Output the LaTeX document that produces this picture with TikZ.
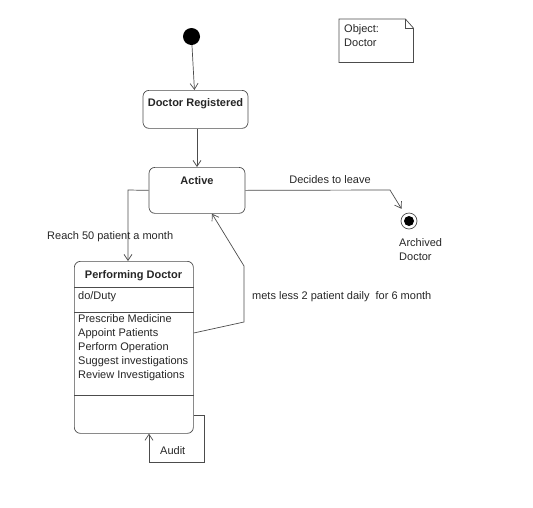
\documentclass[tikz,border=0pt]{standalone}
\usepackage{fontspec}
\setmainfont{Liberation Sans}
\usetikzlibrary{arrows.meta,calc}
\begin{document}
\begin{tikzpicture}[x=1pt,y=-1pt,
  lc/.style={draw=black!70, line width=0.7pt},
  arr/.style={lc, -{Straight Barb[length=6pt,width=8pt]}},
  statebox/.style={lc, fill=white, rounded corners=6pt, inner sep=0pt},
  txt/.style={font=\fontsize{11}{14}\selectfont, text=black!85, inner sep=0pt},
  btxt/.style={txt, font=\fontsize{11}{14}\selectfont\bfseries}
]
\useasboundingbox (0,0) rectangle (533,507);

% initial state
\node[circle, fill=black, inner sep=0pt, minimum size=17pt] (init) at (191.5,36.5) {};

% Doctor Registered
\node[statebox, btxt, draw=black!70, minimum width=105pt, text height=16pt, text depth=22pt, anchor=north] (dr) at (195.5,90) {Doctor Registered};

% Active
\node[statebox, btxt, draw=black!70, minimum width=96pt, text height=17pt, text depth=29pt, anchor=north] (act) at (197,167) {Active};

% final state
\node[circle, draw=black!70, line width=0.7pt, fill=white, minimum size=16pt, inner sep=0pt] (fin) at (409,221) {};
\node[circle, fill=black, minimum size=10pt, inner sep=0pt] (finin) at (fin) {};
\node[txt, align=left, anchor=north west] (finlbl) at (399,238) {Archived\\Doctor};

% note
\node[minimum width=74pt, minimum height=43pt, inner sep=0pt, anchor=north west] (note) at (339,19) {};
\draw[lc] (note.north west) -- ($(note.north east)+(-8,0)$) -- ($(note.north east)+(0,9)$) -- (note.south east) -- (note.south west) -- cycle;
\draw[lc] ($(note.north east)+(-8,0)$) -- ($(note.north east)+(-8,9)$) -- ($(note.north east)+(0,9)$);
\node[txt, align=left, anchor=north west] (notetxt) at (344,24) {Object:\\Doctor};

% Performing Doctor
\node[statebox, minimum width=119pt, minimum height=172pt, anchor=north west] (perf) at (74,261) {};
\draw[lc] (74,287) coordinate (d1) -- (perf.east |- d1);
\draw[lc] (74,312) coordinate (d2) -- (perf.east |- d2);
\draw[lc] (74,395) coordinate (d3) -- (perf.east |- d3);
\node[btxt, anchor=base] (perftitle) at (133.5,278) {Performing Doctor};
\node[txt, anchor=base west] (duty) at (78,299) {do/Duty};
\node[txt, align=left, anchor=north west, font=\fontsize{11}{14}\selectfont] (acts) at (78,314.5) {Prescribe Medicine\\Appoint Patients\\Perform Operation\\Suggest investigations\\Review Investigations};

% transitions
\draw[arr] (init) -- (dr);
\draw[arr] (act.north |- dr.south) -- (act.north);

\coordinate (c1) at (390,190);
\draw[arr, shorten >=6pt] (act.east) -- (c1) -- (fin);
\node[txt, anchor=base] (lleave) at (330,183) {Decides to leave};

\coordinate (c2) at (128,190);
\draw[arr] (act.west) -- (c2) -- (c2 |- perf.north);
\node[txt, anchor=base west] (lreach) at (47,239) {Reach 50 patient a month};

\coordinate (r0) at (0,333);
\coordinate (r1) at (244,322);
\coordinate (r2) at (244,266);
\coordinate (r3) at (212,0);
\draw[arr] (perf.east |- r0) -- (r1) -- (r2) -- (act.south -| r3);
\node[txt, anchor=base west] (lmets) at (252,299) {mets less 2 patient daily\ \ for 6 month};

\coordinate (a1) at (204,415);
\coordinate (a2) at (204,462);
\coordinate (a3) at (149,462);
\draw[arr] (perf.east |- a1) -- (a1) -- (a2) -- (a3) -- (a3 |- perf.south);
\node[txt, anchor=base west] (laudit) at (160,454) {Audit};
\end{tikzpicture}
\end{document}
